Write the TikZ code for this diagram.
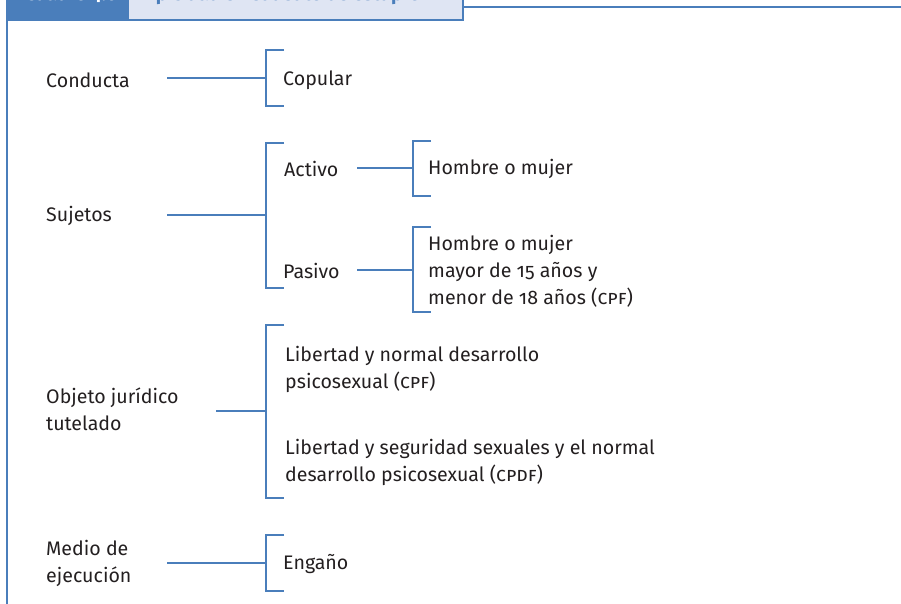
\documentclass[tikz,border=0pt]{standalone}
\usepackage{fontspec}
\setmainfont[Numbers=OldStyle]{Fira Sans}
\definecolor{frameblue}{HTML}{4A7EBB}
\definecolor{lightfill}{HTML}{DFE5F3}
\definecolor{textgray}{HTML}{231F20}
\begin{document}
\begin{tikzpicture}[x=1pt,y=-1pt,
  link/.style={draw=frameblue,line width=2pt},
  lbl/.style={anchor=west,inner sep=0pt,font=\fontsize{19.6}{27}\selectfont,text=textgray,align=left},
  headtxt/.style={anchor=base west,inner sep=0pt,font=\fontsize{19}{23}\selectfont\bfseries}]
\useasboundingbox (0,0) rectangle (901,604);
% header
\begin{scope}
\clip (0,0) rectangle (901,604);
\fill[frameblue] (7,-5) rectangle (128,20);
\filldraw[fill=lightfill,draw=frameblue,line width=2pt] (128,-5) rectangle (463,20);
\draw[link] (7,20) -- (128,20);
\node[headtxt,text=white] (hnum) at (25,0.5) {Cuadro 4.6};
\node[headtxt,text=frameblue] (htitle) at (140,0.5) {Tipicidad en el delito de estupro};
\coordinate (frTL) at (7,-5);
\coordinate (frBL) at (7,610);
\coordinate (frR1) at (463,7);
\coordinate (frR2) at (905,7);
\draw[link] (frTL) -- (frBL);
\draw[link] (frR1) -- (frR2);
\end{scope}

% labels
\node[lbl] (conducta) at (46,80) {Conducta};
\node[lbl] (sujetos) at (46,216) {Sujetos};
\node[lbl] (objeto) at (46,409) {Objeto jurídico\\tutelado};
\node[lbl] (medio) at (46,563) {Medio de\\ejecución};

\node[lbl] (copular) at (283,80) {Copular};
\node[lbl] (activo) at (284,169) {Activo};
\node[lbl] (pasivo) at (283,271) {Pasivo};
\node[lbl] (hombre) at (428,169) {Hombre o mujer};
\node[lbl] (hombre2) at (428,271) {Hombre o mujer\\mayor de 15 años y\\menor de 18 años (\textsc{cpf})};
\node[lbl] (lib1) at (285,369) {Libertad y normal desarrollo\\psicosexual (\textsc{cpf})};
\node[lbl] (lib2) at (285,462) {Libertad y seguridad sexuales y el normal\\desarrollo psicosexual (\textsc{cpdf})};
\node[lbl] (engano) at (283,564) {Engaño};

% connector start points
\coordinate (s1) at (167,78);
\coordinate (s2) at (167,215);
\coordinate (s3) at (357,168);
\coordinate (s4) at (357,270);
\coordinate (s5) at (216,411);
\coordinate (s6) at (167,563);

% bracket coordinates
\coordinate (b1m) at (266,78);
\coordinate (b2m) at (266,215);
\coordinate (b3m) at (413,168);
\coordinate (b4m) at (413,270);
\coordinate (b5m) at (266,411);
\coordinate (b6m) at (266,563);

\draw[link] (s1) -- (b1m);
\draw[link] (s2) -- (b2m);
\draw[link] (s3) -- (b3m);
\draw[link] (s4) -- (b4m);
\draw[link] (s5) -- (b5m);
\draw[link] (s6) -- (b6m);

% brackets
\draw[link] (284,50) -- (266,50) -- (266,106) -- (284,106);
\draw[link] (284,143) -- (266,143) -- (266,288) -- (284,288);
\draw[link] (431,141) -- (413,141) -- (413,196) -- (431,196);
\draw[link] (431,227) -- (413,227) -- (413,312) -- (431,312);
\draw[link] (284,325) -- (266,325) -- (266,498) -- (284,498);
\draw[link] (284,535) -- (266,535) -- (266,591) -- (284,591);
\end{tikzpicture}
\end{document}
